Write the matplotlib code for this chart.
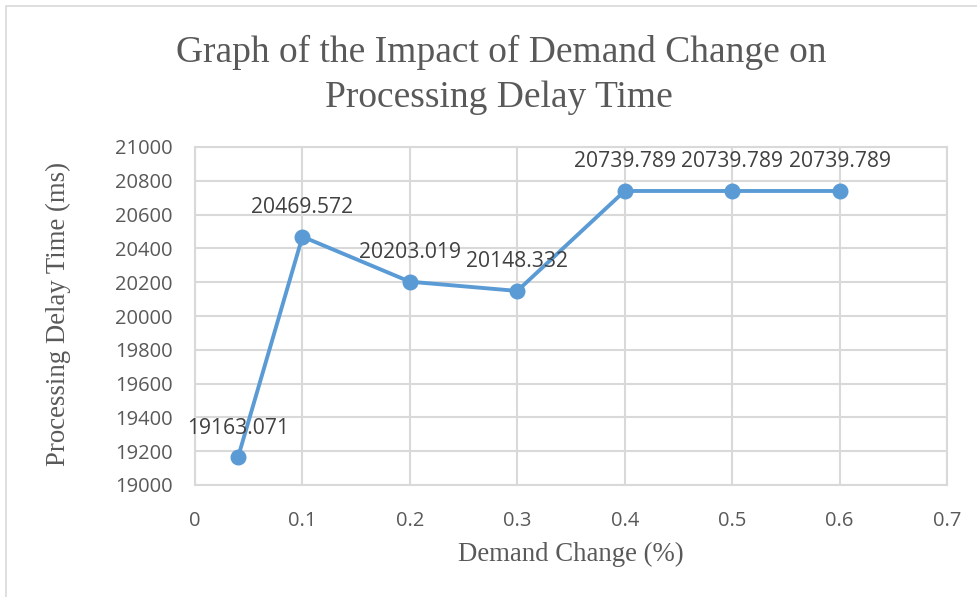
import matplotlib
matplotlib.use("Agg")
import matplotlib.pyplot as plt
from matplotlib.patches import Rectangle

demand_change = [0.04, 0.1, 0.2, 0.3, 0.4, 0.5, 0.6]
delay_ms = [19163.071, 20469.572, 20203.019, 20148.332, 20739.789, 20739.789, 20739.789]
x_ticks = [0, 0.1, 0.2, 0.3, 0.4, 0.5, 0.6, 0.7]
x_tick_labels = ["0", "0.1", "0.2", "0.3", "0.4", "0.5", "0.6", "0.7"]
y_ticks = [19000, 19200, 19400, 19600, 19800, 20000, 20200, 20400, 20600, 20800, 21000]

title_lines = ["Graph of the Impact of Demand Change on", "Processing Delay Time"]
x_label = "Demand Change (%)"
y_label = "Processing Delay Time (ms)"

W, H = 978, 597
fig = plt.figure(figsize=(W / 100, H / 100), dpi=100)
fig.patch.set_facecolor("white")

# chart frame
fig.patches.append(Rectangle((6 / W, -0.02), 1.1, (H - 6) / H + 0.02, transform=fig.transFigure,
                             fill=False, edgecolor="#D9D9D9", linewidth=1.2))

ax = fig.add_axes([195 / W, 1 - 485 / H, (947 - 195) / W, (485 - 147) / H])
grid_c = "#D9D9D9"
text_c = "#595959"
line_c = "#5B9BD5"
sans = ["Open Sans", "DejaVu Sans"]
serif = ["Liberation Serif", "DejaVu Serif"]

ax.plot(demand_change, delay_ms, color=line_c, linewidth=2.8, marker="o", markersize=10.5,
        markerfacecolor=line_c, markeredgecolor=line_c, zorder=3)

for xv, yv in zip(demand_change, delay_ms):
    ax.annotate(f"{yv:.3f}", (xv, yv), xytext=(0, 21), textcoords="offset points",
                ha="center", va="center", fontsize=15.2, color="#404040", family=sans, zorder=4)

ax.set_xlim(0, 0.7)
ax.set_ylim(19000, 21000)
ax.set_xticks(x_ticks)
ax.set_xticklabels(x_tick_labels)
ax.set_yticks(y_ticks)
ax.set_yticklabels([str(v) for v in y_ticks])
ax.grid(True, color=grid_c, linewidth=1.5, zorder=0)
ax.set_axisbelow(True)
for s in ax.spines.values():
    s.set_color(grid_c)
    s.set_linewidth(1.5)
ax.tick_params(length=0, labelsize=14.5, labelcolor=text_c)
ax.tick_params(axis="y", pad=16)
ax.tick_params(axis="x", pad=19)
for lbl in ax.get_xticklabels() + ax.get_yticklabels():
    lbl.set_family(sans)

fig.text(501 / W, 1 - 52 / H, title_lines[0], ha="center", va="center", fontsize=27, color=text_c,
         family=serif)
fig.text(499 / W, 1 - 98 / H, title_lines[1], ha="center", va="center", fontsize=27, color=text_c,
         family=serif)
fig.text(571 / W, 1 - 554 / H, x_label, ha="center", va="center", fontsize=19.3, color=text_c, family=serif)
fig.text(58 / W, 1 - 314 / H, y_label, ha="center", va="center", fontsize=19.3, color=text_c,
         family=serif, rotation=90)

fig.savefig("out.png", dpi=100)
